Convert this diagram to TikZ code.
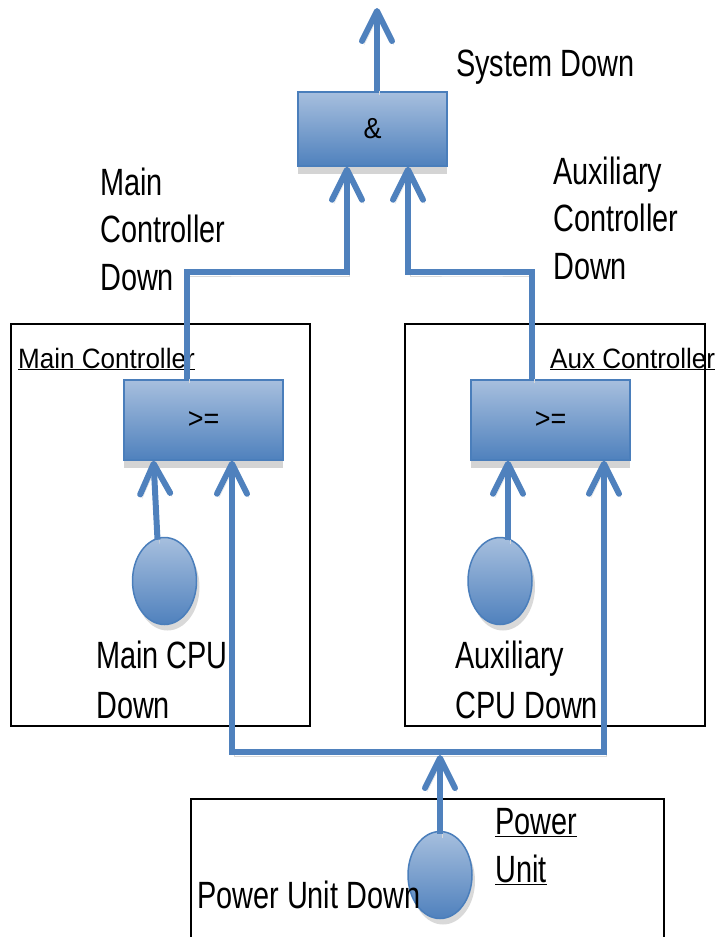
\documentclass[tikz,border=0pt]{standalone}
\usepackage{fontspec}
\setmainfont{Liberation Sans}
\newfontfamily\bigfont[FakeStretch=0.76]{Liberation Sans}
\newfontfamily\smallfont[FakeStretch=0.93]{Liberation Sans}
\usetikzlibrary{arrows.meta,shapes.geometric,positioning}
\definecolor{wireblue}{HTML}{4F81BD}
\definecolor{gatetop}{HTML}{A7BFDE}
\definecolor{gateedge}{HTML}{4A7EBB}

\begin{document}
\begin{tikzpicture}[x=1pt,y=-1pt,
    barb/.tip={Straight Barb[length=30pt,width=30pt,round]},
    gate/.style={draw=gateedge,line width=1.5pt,top color=gatetop,bottom color=wireblue,inner sep=0pt,
        font=\smallfont\fontsize{29}{32}\selectfont,
        preaction={fill=black!17,transform canvas={yshift=-8pt}}},
    event/.style={ellipse,draw=gateedge,line width=1.5pt,top color=gatetop,bottom color=wireblue,
        minimum width=64pt,minimum height=87pt,inner sep=0pt,
        preaction={fill=black!15,transform canvas={shift={(3pt,-6pt)}}}},
    wire/.style={draw=wireblue,line width=6pt,-barb,
        preaction={draw=black!15,transform canvas={shift={(2pt,-4pt)}}}},
    frame/.style={draw=black,line width=1.5pt,inner sep=0pt},
    bigtext/.style={anchor=base west,inner sep=0pt,align=left,font=\bigfont\fontsize{38}{47.5}\selectfont},
    smalltext/.style={anchor=base west,inner sep=0pt,font=\smallfont\fontsize{28}{32}\selectfont}]
\useasboundingbox (0,0) rectangle (719,937);

% enclosing boxes
\node[frame,minimum width=299pt,minimum height=402pt] (mainbox) at (160.5,525) {};
\node[frame,minimum width=300pt,minimum height=402pt] (auxbox) at (555,525) {};
\node[frame,minimum width=473pt,minimum height=141pt] (powerbox) at (427.5,869.5) {};

% gates and basic events
\node[gate,minimum width=149pt,minimum height=74pt] (andgate) at (372.5,129) {\&};
\node[gate,minimum width=159pt,minimum height=80pt] (maingate) at (203.5,420) {>=};
\node[gate,minimum width=159pt,minimum height=80pt] (auxgate) at (550.5,420) {>=};
\node[event] (maincpu) at (164.5,581) {};
\node[event] (auxcpu) at (500,581) {};
\node[event] (powercpu) at (440,875) {};

% labels (multi-line ones sit on their last baseline)
\node[bigtext] (sysdown) at (456,76) {System Down};
\node[bigtext] (maindown) at (100,290) {Main\\Controller\\Down};
\node[bigtext] (auxdown) at (553,279) {Auxiliary\\Controller\\Down};
\node[smalltext] (mainlabel) at (18,368) {\underline{Main Controller}};
\node[smalltext] (auxlabel) at (550,368) {\underline{Aux Controller}};
\node[bigtext] (maincpulabel) at (96,718) {Main CPU\\[2.5pt]Down};
\node[bigtext] (auxcpulabel) at (455,718) {Auxiliary\\[2.5pt]CPU Down};
\node[bigtext] (powerlabel) at (495,882) {\underline{Power}\\\underline{Unit}};
\node[bigtext] (powerdown) at (197,908) {Power Unit Down};

% connectors
\coordinate (sysout) at (377,8);
\coordinate (mainbend) at (270,272);
\coordinate (auxbend) at (470,272);
\coordinate (bus) at (440,752);
\draw[wire] ([xshift=4.5pt]andgate.north) -- (sysout);
\draw[wire] ([xshift=-16.5pt]maingate.north) |- (mainbend) -| ([xshift=-25.5pt]andgate.south);
\draw[wire] ([xshift=-18.5pt]auxgate.north) |- (auxbend) -| ([xshift=35.5pt]andgate.south);
\draw[wire] ([xshift=-7pt,yshift=-3pt]maincpu.north) -- ([xshift=-50pt]maingate.south);
\draw[wire] ([xshift=8pt,yshift=-3pt]auxcpu.north) -- ([xshift=-42.5pt]auxgate.south);
\draw[wire,barb-barb] ([xshift=28.5pt]maingate.south) |- (bus) -| ([xshift=53.5pt]auxgate.south);
\draw[wire] ([yshift=-3pt]powercpu.north) -- ([yshift=-3pt]bus);
\end{tikzpicture}
\end{document}
